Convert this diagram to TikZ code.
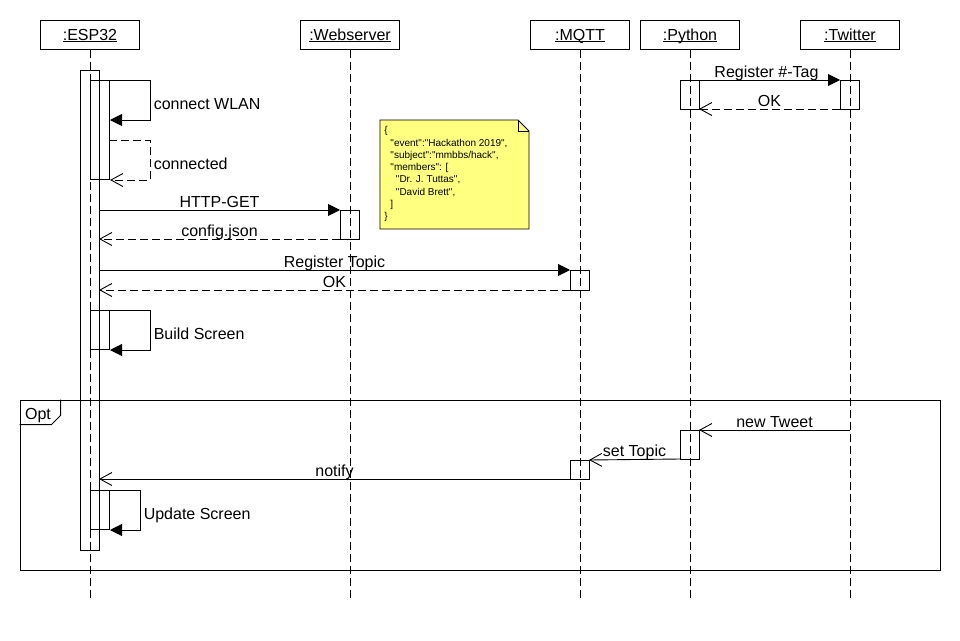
\documentclass[tikz,border=0pt]{standalone}
\usepackage{fontspec}
\setmainfont{Liberation Sans}[Ligatures=TeXOff]
\usepackage{xcolor}
\usetikzlibrary{arrows, arrows.meta}
\usetikzlibrary{positioning}
\usetikzlibrary{calc}
\definecolor{noteyellow}{RGB}{255,255,128}
\newcommand{\objname}[1]{$\underline{\smash{\hbox{#1}}}$}

\begin{document}
\begin{tikzpicture}[x=1pt,y=-1pt,line width=0.9pt,
					font=\fontsize{16}{19}\selectfont,
					head/.style={draw, minimum width=99pt, minimum height=29pt, inner sep=0pt, text height=12pt, text depth=2pt},
					lifeline/.style={dash pattern=on 8pt off 4pt},
					act/.style={draw, minimum width=19pt, inner sep=0pt, outer sep=0pt},
					lbl/.style={text height=11pt, text depth=0pt, inner ysep=2.5pt},
					call/.style={-{Triangle[length=12pt,width=12pt]}},
					reply/.style={dash pattern=on 8pt off 4pt, -{Straight Barb[length=12pt,width=13pt]}},
					async/.style={-{Straight Barb[length=12pt,width=13pt]}}]
					\useasboundingbox (0,0) rectangle (960,640);
					
					%objects
					\node[head] (esp) at (90,35) {\objname{:ESP32}};
					\node[head] (web) at (350,35) {\objname{:Webserver}};
					\node[head] (mqtt) at (580,35) {\objname{:MQTT}};
					\node[head] (py) at (690,35) {\objname{:Python}};
					\node[head] (tw) at (850,35) {\objname{:Twitter}};
					\foreach \n in {esp,web,mqtt,py,tw}
						\draw[lifeline] (\n.south) -- ++(0,550);
					
					% opt frame
					\node[draw, minimum width=920pt, minimum height=170pt, inner sep=0pt] (opt) at (480,485) {};
					\draw (opt.north west) ++(0,25) -- ++(32,0) -- ++(9,-9) -- ++(0,-16);
					\node[lbl] (opttag) at (38,414) {Opt};
					
					% activations
					\node[act, minimum height=480pt] (espmain) at (89.5,310) {};
					\node[act, minimum height=99pt] (espw) at (99.5,129.5) {};
					\node[act, minimum height=29pt] (weba) at (349.5,224.5) {};
					\node[act, minimum height=20pt] (mqtta) at (579.5,280) {};
					\node[act, minimum height=39pt] (espb) at (99.5,329.5) {};
					\node[act, minimum height=29pt] (pya) at (689.5,94.5) {};
					\node[act, minimum height=29pt] (twa) at (849.5,94.5) {};
					\node[act, minimum height=29pt] (pyb) at (689.5,444.5) {};
					\node[act, minimum height=19pt] (mqttb) at (579.5,469.5) {};
					\node[act, minimum height=39pt] (espu) at (99.5,509.5) {};
					
					% messages
					\draw[call] (espw.north east) -- ++(41,0) -- ++(0,40) node[lbl, pos=0.6, right] {connect WLAN} -- ++(-40,0);
					\draw[reply] ([yshift=-60pt]espw.north east) -- ++(41,0) -- ++(0,40) node[lbl, pos=0.6, right] {connected} -- ++(-40,0);
					\draw[call] (espmain.east |- weba.north) -- (weba.north west) node[lbl, midway, above] {HTTP-GET};
					\draw[reply] (weba.south west) -- (espmain.east |- weba.south) node[lbl, midway, above] {config.json};
					\draw[call] (espmain.east |- mqtta.north) -- (mqtta.north west) node[lbl, midway, above] {Register Topic};
					\draw[reply] (mqtta.south west) -- (espmain.east |- mqtta.south) node[lbl, midway, above] {OK};
					\draw[call] (espb.north east) -- ++(41,0) -- ++(0,40) node[lbl, pos=0.6, right] {Build Screen} -- ++(-40,0);
					\draw[call] (pya.north east) -- (twa.north west) node[lbl, midway, above, xshift=-3pt] {Register \#-Tag};
					\draw[reply] (twa.south west) -- (pya.south east) node[lbl, midway, above] {OK};
					
					% inside opt
					\coordinate (tweet) at (850,430);
					\draw[async] (tweet) -- (pyb.north east) node[lbl, midway, above] {new Tweet};
					\draw[async] (pyb.south west) -- (mqttb.north east) node[lbl, midway, above] {set Topic};
					\draw[async] (mqttb.south west) -- (espmain.east |- mqttb.south) node[lbl, midway, above] {notify};
					\draw[call] (espu.north east) -- ++(31,0) -- ++(0,40) node[lbl, pos=0.6, right] {Update Screen} -- ++(-30,0);
					
					% note
					\draw[fill=noteyellow] (380,120) -- (518,120) -- (529,131) -- (529,229) -- (380,229) -- cycle;
					\draw (518,120) -- (518,131) -- (529,131);
					\node[anchor=north west, align=left, inner sep=0pt, font=\fontsize{10}{12.3}\selectfont] (json) at (384,126) {\{\\
						\hspace*{6pt}"event":"Hackathon 2019",\\
						\hspace*{6pt}"subject":"mmbbs/hack",\\
						\hspace*{6pt}"members": [\\
						\hspace*{11.5pt}"Dr. J. Tuttas",\\
						\hspace*{11.5pt}"David Brett",\\
						\hspace*{6pt}]\\
						\}};
				\end{tikzpicture}
\end{document}
